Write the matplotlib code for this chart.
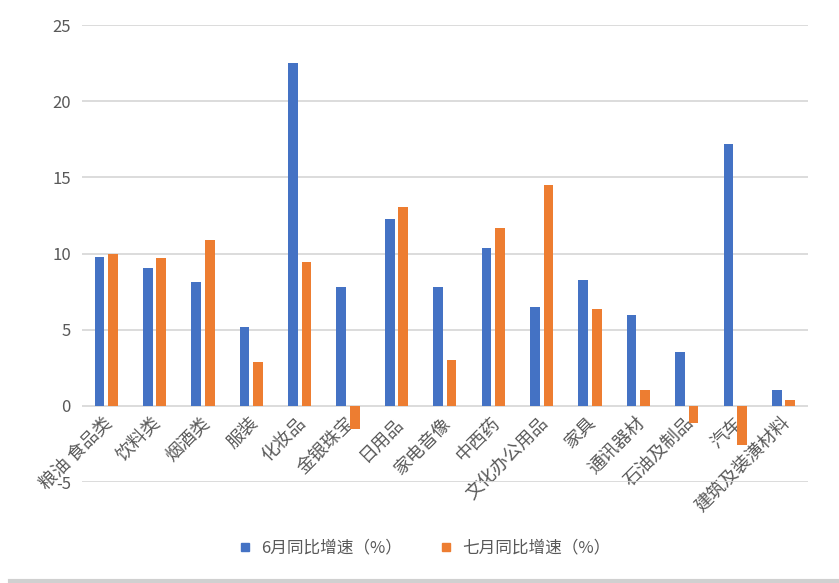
import numpy as np
import matplotlib
matplotlib.use("Agg")
import matplotlib.pyplot as plt
from matplotlib.lines import Line2D

plt.rcParams['font.family'] = ['Noto Sans CJK SC', 'DejaVu Sans']

categories = ["粮油 食品类", "饮料类", "烟酒类", "服装", "化妆品", "金银珠宝", "日用品",
              "家电音像", "中西药", "文化办公用品", "家具", "通讯器材", "石油及制品",
              "汽车", "建筑及装潢材料"]
june = [9.8, 9.05, 8.15, 5.2, 22.5, 7.8, 12.3, 7.8, 10.35, 6.5, 8.3, 6.0, 3.55, 17.2, 1.05]
july = [10.0, 9.7, 10.9, 2.9, 9.45, -1.5, 13.05, 3.0, 11.65, 14.5, 6.35, 1.05, -1.1, -2.55, 0.4]
series_names = ["6月同比增速（%）", "七月同比增速（%）"]
yticks = [-5, 0, 5, 10, 15, 20, 25]

blue = "#4472C4"
orange = "#ED7D31"
grey_text = "#595959"

fig = plt.figure(figsize=(8.39, 5.83), dpi=100)
ax = fig.add_axes([0.0977, 0.173, 0.865, 0.784])

x = np.arange(len(categories))
w = 0.2
ax.bar(x - 0.14, june, width=w, color=blue, label=series_names[0], zorder=3)
ax.bar(x + 0.14, july, width=w, color=orange, label=series_names[1], zorder=3)

ax.set_xlim(-0.5, len(categories) - 0.5)
ax.set_ylim(-5, 25)
ax.set_yticks(yticks)
ax.set_yticklabels([str(v) for v in yticks], fontsize=12, color=grey_text)
ax.yaxis.grid(True, color="#D9D9D9", linewidth=1.3, zorder=0)
ax.tick_params(axis='y', length=0, pad=8)
ax.tick_params(axis='x', length=0, pad=2)
for s in ax.spines.values():
    s.set_visible(False)

ax.set_xticks(x - 0.05)
ax.set_xticklabels(categories, rotation=45, ha='right', va='top',
                   rotation_mode='anchor', fontsize=13, color=grey_text)
# labels sit just below the zero line
for lab in ax.get_xticklabels():
    lab.set_y(0.155)

handles = [Line2D([], [], marker='s', linestyle='none', markersize=6, color=c)
           for c in (blue, orange)]
fig.legend(handles, series_names, loc='center', bbox_to_anchor=(0.5, 0.06),
           ncol=2, frameon=False, fontsize=12, labelcolor=grey_text,
           handletextpad=0.0, columnspacing=1.6)

fig.add_artist(Line2D([0.012, 1.0], [0.004, 0.004], color="#D0D0D0", linewidth=3))

fig.savefig("out.png", dpi=100)
